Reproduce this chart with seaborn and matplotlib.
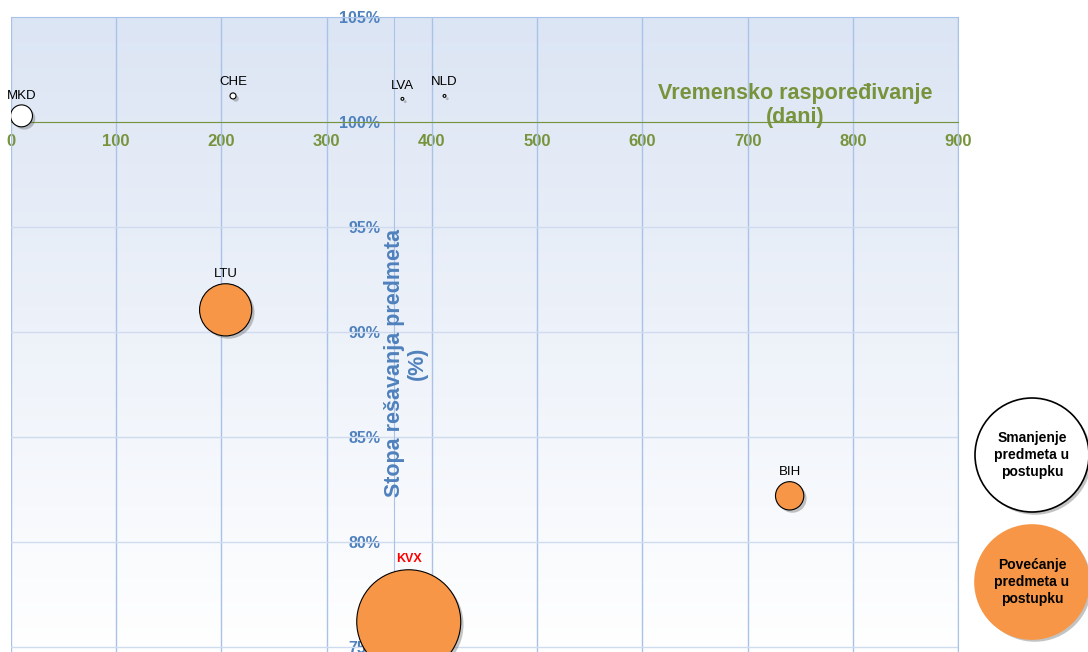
import numpy as np
import pandas as pd
import seaborn as sns
import matplotlib.pyplot as plt
from matplotlib.patches import Ellipse
from matplotlib.colors import LinearSegmentedColormap
import matplotlib.patheffects as pe

# Podaci
zemlje = ['MKD', 'CHE', 'LVA', 'NLD', 'LTU', 'BIH', 'KVX']
dani = [10, 211, 372, 412, 204, 740, 378]
stopa = [100.29, 101.24, 101.1, 101.24, 91.05, 82.19, 76.19]
promjena = [120, 9, 2, 2, 680, 200, 2700]
trend = ['Smanjenje', 'Smanjenje', 'Smanjenje', 'Smanjenje',
         'Povećanje', 'Povećanje', 'Povećanje']

df = pd.DataFrame({'zemlja': zemlje, 'dani': dani, 'stopa': stopa,
                   'promjena': promjena, 'trend': trend})

sns.set_style('white')
plt.rcParams['font.family'] = ['Liberation Sans', 'DejaVu Sans']

zelena = '#77933c'
plava = '#4f81bd'
narandzasta = '#f79646'
sjena = [pe.SimplePatchShadow(offset=(2, -2), shadow_rgbFace='#555555', alpha=0.35),
         pe.Normal()]

fig = plt.figure(figsize=(10.88, 6.52), dpi=100)
ax = fig.add_axes([11 / 1088, 0, 947 / 1088, 1 - 17 / 652])
ax.set_xlim(0, 900)
ax.set_ylim(74.75, 105)

# gradijent pozadine
grad = np.linspace(0, 1, 256).reshape(-1, 1)
cmap = LinearSegmentedColormap.from_list('bg', ['#ffffff', '#dce5f4'])
ax.imshow(grad, extent=[0, 900, 74.75, 105], aspect='auto', cmap=cmap,
          origin='lower', zorder=0)

# mreža
for x in range(0, 901, 100):
    ax.axvline(x, color='#a9c2e8', lw=1, zorder=1)
for y in range(75, 106, 5):
    ax.axhline(y, color='#cfdcef', lw=1, zorder=1)

sns.scatterplot(data=df, x='dani', y='stopa', hue='trend', size='promjena',
                palette={'Smanjenje': 'white', 'Povećanje': narandzasta},
                sizes=(0, 5610), size_norm=(0, 2700), edgecolor='black',
                linewidth=0.8, legend=False, ax=ax, zorder=5)
for coll in ax.collections:
    coll.set_path_effects(sjena)

# oznake
pomak = [14, 8, 7, 8, 30, 18, 57]
for z, x, y, p in zip(zemlje, dani, stopa, pomak):
    if z == 'KVX':
        ax.annotate(z, (x, y), xytext=(0, p), textcoords='offset pixels',
                    ha='center', va='bottom', color='red', fontweight='bold',
                    fontsize=9, zorder=6)
    else:
        ax.annotate(z, (x, y), xytext=(0, p), textcoords='offset pixels',
                    ha='center', va='bottom', color='black', fontsize=9.5,
                    zorder=6)

# osi
ax.spines['bottom'].set_position(('data', 100))
ax.spines['bottom'].set_color(zelena)
ax.spines['left'].set_position(('data', 364))
ax.spines['left'].set_color('#a9c2e8')
ax.spines['top'].set_color('#a9c2e8')
ax.spines['right'].set_color('#a9c2e8')
for s in ax.spines.values():
    s.set_zorder(2)

ax.set_xticks(range(0, 901, 100))
ax.set_yticks(range(75, 106, 5))
ax.set_yticklabels([f'{v}%' for v in range(75, 106, 5)])
ax.tick_params(axis='x', colors=zelena, length=4, direction='inout', pad=7)
ax.tick_params(axis='y', colors='#a9c2e8', length=4, direction='inout', pad=8)
for t in ax.get_xticklabels():
    t.set_color(zelena)
    t.set_fontweight('bold')
    t.set_fontsize(12)
for t in ax.get_yticklabels():
    t.set_color(plava)
    t.set_fontweight('bold')
    t.set_fontsize(11.5)
ax.set_xlabel('')
ax.set_ylabel('')

ax.text(745, 100.8, 'Vremensko raspoređivanje\n(dani)', color=zelena,
        fontweight='bold', fontsize=15.5, ha='center', va='center',
        linespacing=1.2, zorder=6)
ax.text(375, 88.5, 'Stopa rešavanja predmeta\n(%)', color=plava,
        fontweight='bold', fontsize=15.5, ha='center', va='center',
        rotation=90, linespacing=1.1, zorder=6)

# legenda s krugovima
for cy, boja, tekst, ivica in [(455, 'white', 'Smanjenje\npredmeta u\npostupku', 'black'),
                               (582, narandzasta, 'Povećanje\npredmeta u\npostupku', narandzasta)]:
    e = Ellipse((1032 / 1088, 1 - cy / 652), 114 / 1088, 114 / 652,
                transform=fig.transFigure, facecolor=boja, edgecolor=ivica,
                lw=1.2, path_effects=sjena)
    fig.add_artist(e)
    fig.text(1032 / 1088, 1 - cy / 652, tekst, ha='center', va='center',
             fontsize=10, fontweight='bold', color='black', linespacing=1.3)

plt.savefig('out.png', dpi=100)
